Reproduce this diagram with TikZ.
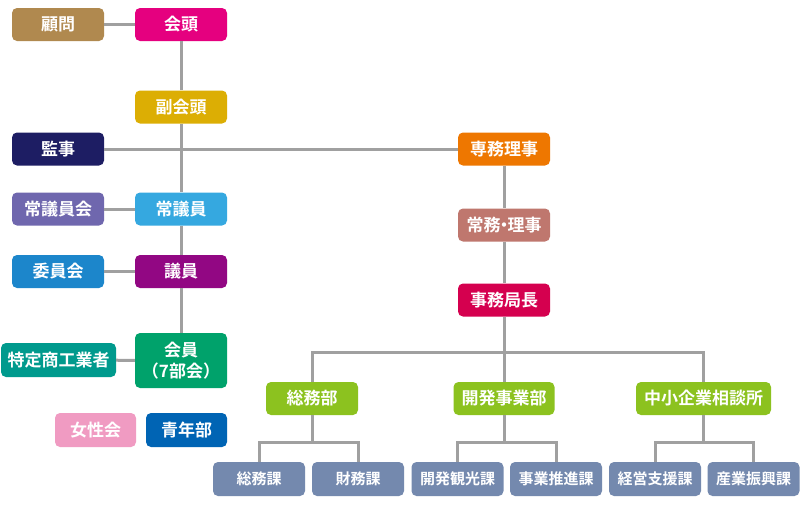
\documentclass[tikz,border=0pt]{standalone}
\usepackage{fontspec}
\setmainfont{Noto Sans CJK JP}[BoldFont={Noto Sans CJK JP Bold}]
\usetikzlibrary{positioning}
\definecolor{cbrown}{HTML}{B0894F}
\definecolor{cmagenta}{HTML}{E5007F}
\definecolor{cgold}{HTML}{DCAE04}
\definecolor{cnavy}{HTML}{1D1D63}
\definecolor{corange}{HTML}{EE7700}
\definecolor{cviolet}{HTML}{6F67AE}
\definecolor{csky}{HTML}{35A8E0}
\definecolor{crose}{HTML}{BF776E}
\definecolor{cblue}{HTML}{1C86CB}
\definecolor{cpurple}{HTML}{920783}
\definecolor{ccrimson}{HTML}{D5004F}
\definecolor{cteal}{HTML}{009A8D}
\definecolor{cgreen}{HTML}{00A26B}
\definecolor{cpink}{HTML}{F09BC2}
\definecolor{croyal}{HTML}{0064B4}
\definecolor{clime}{HTML}{8CC21F}
\definecolor{csteel}{HTML}{7489AE}
\definecolor{cline}{HTML}{A0A0A0}
\tikzset{
  org/.style={rounded corners=5pt,inner sep=0pt,minimum width=92pt,minimum height=33pt,align=center,text=white,font=\bfseries\fontsize{17}{21}\selectfont},
  dept/.style={org,fill=clime},
  sect/.style={org,fill=csteel,minimum height=34pt,font=\bfseries\fontsize{15}{18}\selectfont},
  ln/.style={draw=cline,line width=3pt},
}
\begin{document}
\begin{tikzpicture}[x=1pt,y=-1pt]
  \fill[white] (0,0) rectangle (800,504);
  % left column
  \node[org,fill=cbrown] (komon) at (58,24.5) {顧問};
  \node[org,fill=cmagenta] (kaito) at (181,24.5) {会頭};
  \node[org,fill=cgold] (fuku) at (181,107) {副会頭};
  \node[org,fill=cnavy] (kanji) at (58,149) {監事};
  \node[org,fill=cviolet] (jogiinkai) at (58,209) {常議員会};
  \node[org,fill=csky] (jogiin) at (181,209) {常議員};
  \node[org,fill=cblue] (iinkai) at (58,271.5) {委員会};
  \node[org,fill=cpurple] (giin) at (181,271.5) {議員};
  \node[org,fill=cteal,minimum width=115pt,minimum height=34pt] (tokutei) at (58.5,360) {特定商工業者};
  \node[org,fill=cgreen,minimum height=55pt] (kaiin) at (181,360.5) {会員\\（7部会）};
  \node[org,fill=cpink,minimum width=81pt,minimum height=34pt] (josei) at (95.5,430) {女性会};
  \node[org,fill=croyal,minimum width=81pt,minimum height=34pt] (seinen) at (186.5,430) {青年部};
  % secretariat
  \node[org,fill=corange] (senmu) at (504,149) {専務理事};
  \node[org,fill=crose] (jomu) at (504,225) {常務\kern-5pt・\kern-5pt 理事};
  \node[org,fill=ccrimson] (jimu) at (504,300) {事務局長};
  \node[dept] (somubu) at (312,398.5) {総務部};
  \node[dept,minimum width=101pt] (kaihatsu) at (504,398.5) {開発事業部};
  \node[dept,minimum width=135pt] (chusho) at (703.5,398.5) {中小企業相談所};
  \foreach \n/\x/\lbl in {s1/259/総務課,s2/358/財務課,s3/457.5/開発観光課,s4/556/事業推進課,s5/655/経営支援課,s6/753.5/産業振興課} {
    \node[sect] (\n) at (\x,479) {\lbl};
  }
  % connectors
  \coordinate (bus) at (504,352);
  \coordinate (subbus) at (504,442);
  \draw[ln] (komon) -- (kaito);
  \draw[ln] (kaito) -- (fuku) -- (jogiin) -- (giin) -- (kaiin);
  \draw[ln] (kanji) -- (senmu);
  \draw[ln] (jogiinkai) -- (jogiin);
  \draw[ln] (iinkai) -- (giin);
  \draw[ln] (tokutei) -- (kaiin);
  \draw[ln] (senmu) -- (jomu) -- (jimu) -- (kaihatsu);
  \draw[ln] (somubu.north) |- (chusho.north |- bus) -- (chusho.north);
  \foreach \d/\a/\b in {somubu/s1/s2,kaihatsu/s3/s4,chusho/s5/s6} {
    \draw[ln] (\d.south) -- (\d.south |- subbus);
    \draw[ln] (\a.north) |- (\b.north |- subbus) -- (\b.north);
  }
\end{tikzpicture}
\end{document}
